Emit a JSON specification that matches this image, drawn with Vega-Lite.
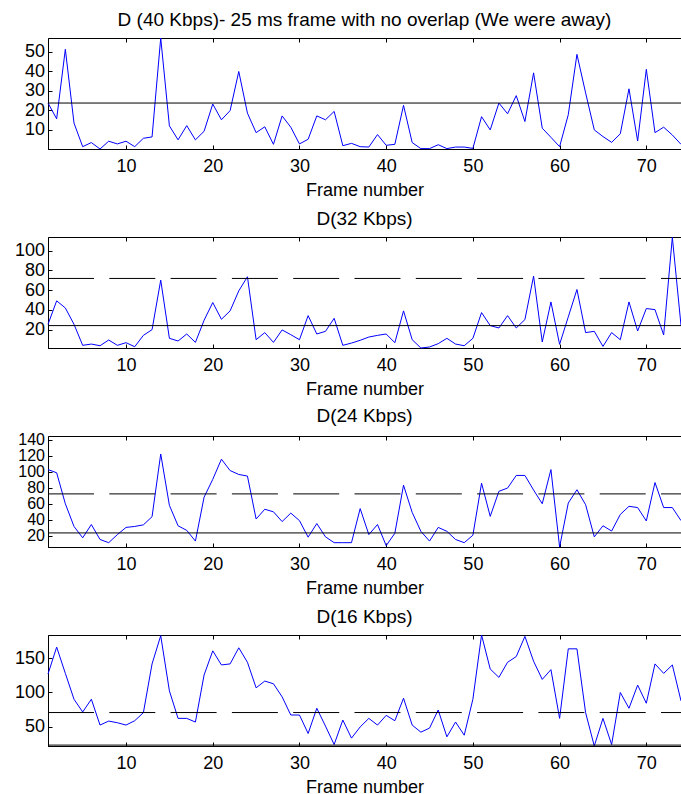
{
  "$schema": "https://vega.github.io/schema/vega-lite/v6.json",
  "background": "white",
  "padding": {"left": 13, "top": 10, "right": 0, "bottom": 0},
  "spacing": 88,
  "bounds": "flush",
  "config": {
    "font": "Liberation Sans",
    "view": {"stroke": "black", "strokeWidth": 1},
    "axis": {"grid": false, "domainColor": "black", "domainWidth": 1, "tickColor": "black", "tickSize": -4, "tickWidth": 1, "labelFont": "Liberation Sans", "labelFontSize": 18, "labelColor": "black", "labelOverlap": false, "labelBound": false, "titleFont": "Liberation Sans", "titleFontSize": 18, "titleFontWeight": "normal", "titleColor": "black"},
    "axisX": {"labelPadding": 12.5, "titlePadding": 6, "labelFlush": false},
    "axisY": {"labelPadding": 7.5, "labelOverlap": false},
    "title": {"font": "Liberation Sans", "fontSize": 19, "fontWeight": "normal", "color": "black", "offset": 6, "baseline": "alphabetic", "anchor": "middle", "frame": "group"}
  },
  "datasets": {
    "d40": [
      {"frame":1,"value":23.6},{"frame":2,"value":15.5},{"frame":3,"value":51.2},{"frame":4,"value":13.3},{"frame":5,"value":1.2},{"frame":6,"value":3.3},{"frame":7,"value":0},{"frame":8,"value":4},{"frame":9,"value":2.6},{"frame":10,"value":4},
      {"frame":11,"value":1.2},{"frame":12,"value":5.5},{"frame":13,"value":6.2},{"frame":14,"value":57},{"frame":15,"value":11.9},{"frame":16,"value":4.7},{"frame":17,"value":12},{"frame":18,"value":4.7},{"frame":19,"value":9.1},{"frame":20,"value":23.1},
      {"frame":21,"value":15},{"frame":22,"value":19.7},{"frame":23,"value":39.8},{"frame":24,"value":18.4},{"frame":25,"value":8.4},{"frame":26,"value":11.4},{"frame":27,"value":2.4},{"frame":28,"value":17},{"frame":29,"value":11.2},{"frame":30,"value":2.6},
      {"frame":31,"value":5},{"frame":32,"value":17},{"frame":33,"value":15},{"frame":34,"value":19.3},{"frame":35,"value":1.7},{"frame":36,"value":2.9},{"frame":37,"value":1.2},{"frame":38,"value":1},{"frame":39,"value":7.4},{"frame":40,"value":1.9},
      {"frame":41,"value":2.4},{"frame":42,"value":22.4},{"frame":43,"value":3.3},{"frame":44,"value":0.2},{"frame":45,"value":0.2},{"frame":46,"value":2.2},{"frame":47,"value":0.2},{"frame":48,"value":1},{"frame":49,"value":1},{"frame":50,"value":0.3},
      {"frame":51,"value":16.6},{"frame":52,"value":9.8},{"frame":53,"value":23.6},{"frame":54,"value":18.1},{"frame":55,"value":27.4},{"frame":56,"value":14.1},{"frame":57,"value":39.1},{"frame":58,"value":10.7},{"frame":59,"value":6},{"frame":60,"value":1.2},
      {"frame":61,"value":17.6},{"frame":62,"value":48.6},{"frame":63,"value":28.8},{"frame":64,"value":9.8},{"frame":65,"value":6.4},{"frame":66,"value":3.4},{"frame":67,"value":7.8},{"frame":68,"value":30.9},{"frame":69,"value":4.1},{"frame":70,"value":40.9},
      {"frame":71,"value":8.4},{"frame":72,"value":11.2},{"frame":73,"value":7.2},{"frame":74,"value":2.4}
    ],
    "d32": [
      {"frame":1,"value":25.4},{"frame":2,"value":49.2},{"frame":3,"value":42},{"frame":4,"value":25.4},{"frame":5,"value":4.1},{"frame":6,"value":5.4},{"frame":7,"value":3.7},{"frame":8,"value":9.5},{"frame":9,"value":4.1},{"frame":10,"value":6.8},
      {"frame":11,"value":2.7},{"frame":12,"value":14.2},{"frame":13,"value":20},{"frame":14,"value":70.2},{"frame":15,"value":11.2},{"frame":16,"value":8.5},{"frame":17,"value":15.6},{"frame":18,"value":7.1},{"frame":19,"value":29.5},{"frame":20,"value":47.5},
      {"frame":21,"value":30.5},{"frame":22,"value":39},{"frame":23,"value":59.3},{"frame":24,"value":73.6},{"frame":25,"value":9.8},{"frame":26,"value":17},{"frame":27,"value":7.1},{"frame":28,"value":19.7},{"frame":29,"value":14.9},{"frame":30,"value":9.8},
      {"frame":31,"value":34.2},{"frame":32,"value":15.6},{"frame":33,"value":18.3},{"frame":34,"value":31.5},{"frame":35,"value":4.1},{"frame":36,"value":6.4},{"frame":37,"value":9.2},{"frame":38,"value":12.5},{"frame":39,"value":14.2},{"frame":40,"value":15.6},
      {"frame":41,"value":6.8},{"frame":42,"value":39},{"frame":43,"value":9.8},{"frame":44,"value":1.4},{"frame":45,"value":2.4},{"frame":46,"value":5.8},{"frame":47,"value":11.2},{"frame":48,"value":5.4},{"frame":49,"value":3.7},{"frame":50,"value":11.2},
      {"frame":51,"value":37.3},{"frame":52,"value":24.1},{"frame":53,"value":21.7},{"frame":54,"value":34.2},{"frame":55,"value":21.7},{"frame":56,"value":30.2},{"frame":57,"value":74.2},{"frame":58,"value":7.5},{"frame":59,"value":48.1},{"frame":60,"value":5.1},
      {"frame":61,"value":32.9},{"frame":62,"value":60.7},{"frame":63,"value":17},{"frame":64,"value":18.3},{"frame":65,"value":3},{"frame":66,"value":17},{"frame":67,"value":9.8},{"frame":68,"value":48.1},{"frame":69,"value":18.6},{"frame":70,"value":41.4},
      {"frame":71,"value":40.3},{"frame":72,"value":14.6},{"frame":73,"value":113.6},{"frame":74,"value":24.4}
    ],
    "d24": [
      {"frame":1,"value":102.9},{"frame":2,"value":98.9},{"frame":3,"value":60.2},{"frame":4,"value":31.8},{"frame":5,"value":17.6},{"frame":6,"value":34.2},{"frame":7,"value":15.5},{"frame":8,"value":11.5},{"frame":9,"value":21.6},{"frame":10,"value":30.6},
      {"frame":11,"value":31.8},{"frame":12,"value":33.8},{"frame":13,"value":44},{"frame":14,"value":122.4},{"frame":15,"value":58.2},{"frame":16,"value":32.6},{"frame":17,"value":26.9},{"frame":18,"value":13.5},{"frame":19,"value":68.4},{"frame":20,"value":90.7},
      {"frame":21,"value":115.9},{"frame":22,"value":101.7},{"frame":23,"value":96.8},{"frame":24,"value":94.8},{"frame":25,"value":41.1},{"frame":26,"value":53.3},{"frame":27,"value":50.1},{"frame":28,"value":37.9},{"frame":29,"value":48.5},{"frame":30,"value":39.1},
      {"frame":31,"value":18.4},{"frame":32,"value":35.4},{"frame":33,"value":18.8},{"frame":34,"value":11.5},{"frame":35,"value":11.5},{"frame":36,"value":11.5},{"frame":37,"value":54.1},{"frame":38,"value":21.6},{"frame":39,"value":34.2},{"frame":40,"value":7.8},
      {"frame":41,"value":23.3},{"frame":42,"value":83.4},{"frame":43,"value":49.3},{"frame":44,"value":25.7},{"frame":45,"value":13.5},{"frame":46,"value":30.6},{"frame":47,"value":25.7},{"frame":48,"value":15.5},{"frame":49,"value":11.5},{"frame":50,"value":20.8},
      {"frame":51,"value":85.9},{"frame":52,"value":44.4},{"frame":53,"value":75.7},{"frame":54,"value":79.8},{"frame":55,"value":95.6},{"frame":56,"value":95.6},{"frame":57,"value":77.3},{"frame":58,"value":60.2},{"frame":59,"value":102.9},{"frame":60,"value":6.1},
      {"frame":61,"value":61.1},{"frame":62,"value":77.7},{"frame":63,"value":59},{"frame":64,"value":18.8},{"frame":65,"value":32.6},{"frame":66,"value":26.1},{"frame":67,"value":46.8},{"frame":68,"value":57},{"frame":69,"value":55.4},{"frame":70,"value":38.7},
      {"frame":71,"value":86.7},{"frame":72,"value":55.4},{"frame":73,"value":55.4},{"frame":74,"value":39.1}
    ],
    "d16": [
      {"frame":1,"value":126.8},{"frame":2,"value":165.9},{"frame":3,"value":127.8},{"frame":4,"value":90.2},{"frame":5,"value":71.7},{"frame":6,"value":90.2},{"frame":7,"value":52.7},{"frame":8,"value":58.5},{"frame":9,"value":56.1},{"frame":10,"value":52.7},
      {"frame":11,"value":59},{"frame":12,"value":70.7},{"frame":13,"value":141.5},{"frame":14,"value":182.5},{"frame":15,"value":102.4},{"frame":16,"value":62.4},{"frame":17,"value":62.4},{"frame":18,"value":57.1},{"frame":19,"value":125.4},{"frame":20,"value":160.5},
      {"frame":21,"value":140},{"frame":22,"value":141.5},{"frame":23,"value":164.9},{"frame":24,"value":143.9},{"frame":25,"value":106.8},{"frame":26,"value":116.6},{"frame":27,"value":112.7},{"frame":28,"value":93.7},{"frame":29,"value":67.3},{"frame":30,"value":67.3},
      {"frame":31,"value":40.5},{"frame":32,"value":77.1},{"frame":33,"value":51.2},{"frame":34,"value":24.4},{"frame":35,"value":60},{"frame":36,"value":33.7},{"frame":37,"value":50},{"frame":38,"value":62.4},{"frame":39,"value":52.7},{"frame":40,"value":66.8},
      {"frame":41,"value":59},{"frame":42,"value":91.7},{"frame":43,"value":52.7},{"frame":44,"value":42.4},{"frame":45,"value":48.3},{"frame":46,"value":74.6},{"frame":47,"value":35.6},{"frame":48,"value":57.1},{"frame":49,"value":38},{"frame":50,"value":90.2},
      {"frame":51,"value":183.5},{"frame":52,"value":134.1},{"frame":53,"value":122},{"frame":54,"value":143.9},{"frame":55,"value":152.2},{"frame":56,"value":181.5},{"frame":57,"value":145.4},{"frame":58,"value":119},{"frame":59,"value":133.2},{"frame":60,"value":62.4},
      {"frame":61,"value":163.4},{"frame":62,"value":163.4},{"frame":63,"value":70.7},{"frame":64,"value":22.3},{"frame":65,"value":62.4},{"frame":66,"value":24.4},{"frame":67,"value":100},{"frame":68,"value":77.1},{"frame":69,"value":110.7},{"frame":70,"value":84.4},
      {"frame":71,"value":141.5},{"frame":72,"value":127.8},{"frame":73,"value":140},{"frame":74,"value":87.8}
    ],
    "lv40": [{"level":23.6,"kind":"solid","from":1,"to":74}],
    "lv32": [{"level":24.1,"kind":"solid","from":1,"to":74},{"level":71.9,"kind":"dashed","from":1,"to":74}],
    "lv24": [{"level":23.7,"kind":"solid","from":1,"to":74},{"level":72.5,"kind":"dashed","from":1,"to":74}],
    "lv16": [{"level":23.6,"kind":"solid","from":1,"to":74},{"level":70.9,"kind":"dashed","from":1,"to":74}]
  },
  "vconcat": [
    {
      "width": 633, "height": 111,
      "title": {"text": "D (40 Kbps)- 25 ms frame with no overlap (We were away)"},
      "resolve": {"axis": {"x": "independent"}},
      "layer": [
        {"data": {"name": "d40"}, "mark": {"type": "line", "color": "#0000ff", "strokeWidth": 1},
         "encoding": {
           "x": {"field": "frame", "type": "quantitative", "scale": {"domain": [1, 74], "nice": false, "zero": false}, "axis": {"title": "Frame number", "values": [10,20,30,40,50,60,70], "orient": "bottom"}},
           "y": {"field": "value", "type": "quantitative", "scale": {"domain": [0, 57], "nice": false, "zero": false}, "axis": {"title": null, "values": [10,20,30,40,50], "labelOverlap": false}}}},
        {"data": {"name": "lv40"}, "mark": {"type": "rule", "color": "black", "strokeWidth": 1},
         "encoding": {
           "x": {"field": "from", "type": "quantitative", "scale": {"domain": [1, 74], "nice": false, "zero": false}, "axis": null},
           "x2": {"field": "to"},
           "y": {"field": "level", "type": "quantitative", "scale": {"domain": [0, 57], "nice": false, "zero": false}, "axis": {"title": null, "values": [10,20,30,40,50], "labelOverlap": false}},
           "strokeDash": {"field": "kind", "type": "nominal", "scale": {"domain": ["solid", "dashed"], "range": [[1, 0], [46, 15.3]]}, "legend": null}}},
        {"data": {"name": "d40"}, "mark": {"type": "point", "opacity": 0},
         "encoding": {"x": {"field": "frame", "type": "quantitative", "axis": {"orient": "top", "labels": false, "title": null, "domain": false, "values": [10,20,30,40,50,60,70]}}}}
      ]
    },
    {
      "width": 633, "height": 111,
      "title": {"text": "D(32 Kbps)"},
      "resolve": {"axis": {"x": "independent"}},
      "layer": [
        {"data": {"name": "d32"}, "mark": {"type": "line", "color": "#0000ff", "strokeWidth": 1},
         "encoding": {
           "x": {"field": "frame", "type": "quantitative", "scale": {"domain": [1, 74], "nice": false, "zero": false}, "axis": {"title": "Frame number", "values": [10,20,30,40,50,60,70], "orient": "bottom"}},
           "y": {"field": "value", "type": "quantitative", "scale": {"domain": [1.4, 113.9], "nice": false, "zero": false}, "axis": {"title": null, "values": [20,40,60,80,100], "labelOverlap": false}}}},
        {"data": {"name": "lv32"}, "mark": {"type": "rule", "color": "black", "strokeWidth": 1},
         "encoding": {
           "x": {"field": "from", "type": "quantitative", "scale": {"domain": [1, 74], "nice": false, "zero": false}, "axis": null},
           "x2": {"field": "to"},
           "y": {"field": "level", "type": "quantitative", "scale": {"domain": [1.4, 113.9], "nice": false, "zero": false}, "axis": {"title": null, "values": [20,40,60,80,100], "labelOverlap": false}},
           "strokeDash": {"field": "kind", "type": "nominal", "scale": {"domain": ["solid", "dashed"], "range": [[1, 0], [46, 15.3]]}, "legend": null}}},
        {"data": {"name": "d32"}, "mark": {"type": "point", "opacity": 0},
         "encoding": {"x": {"field": "frame", "type": "quantitative", "axis": {"orient": "top", "labels": false, "title": null, "domain": false, "values": [10,20,30,40,50,60,70]}}}}
      ]
    },
    {
      "width": 633, "height": 111,
      "title": {"text": "D(24 Kbps)"},
      "resolve": {"axis": {"x": "independent"}},
      "layer": [
        {"data": {"name": "d24"}, "mark": {"type": "line", "color": "#0000ff", "strokeWidth": 1},
         "encoding": {
           "x": {"field": "frame", "type": "quantitative", "scale": {"domain": [1, 74], "nice": false, "zero": false}, "axis": {"title": "Frame number", "values": [10,20,30,40,50,60,70], "orient": "bottom"}},
           "y": {"field": "value", "type": "quantitative", "scale": {"domain": [6.1, 144.9], "nice": false, "zero": false}, "axis": {"title": null, "values": [20,40,60,80,100,120,140], "labelOverlap": false, "labelFontSize": 16}}}},
        {"data": {"name": "lv24"}, "mark": {"type": "rule", "color": "black", "strokeWidth": 1},
         "encoding": {
           "x": {"field": "from", "type": "quantitative", "scale": {"domain": [1, 74], "nice": false, "zero": false}, "axis": null},
           "x2": {"field": "to"},
           "y": {"field": "level", "type": "quantitative", "scale": {"domain": [6.1, 144.9], "nice": false, "zero": false}, "axis": {"title": null, "values": [20,40,60,80,100,120,140], "labelOverlap": false, "labelFontSize": 16}},
           "strokeDash": {"field": "kind", "type": "nominal", "scale": {"domain": ["solid", "dashed"], "range": [[1, 0], [46, 15.3]]}, "legend": null}}},
        {"data": {"name": "d24"}, "mark": {"type": "point", "opacity": 0},
         "encoding": {"x": {"field": "frame", "type": "quantitative", "axis": {"orient": "top", "labels": false, "title": null, "domain": false, "values": [10,20,30,40,50,60,70]}}}}
      ]
    },
    {
      "width": 633, "height": 111,
      "title": {"text": "D(16 Kbps)"},
      "resolve": {"axis": {"x": "independent"}},
      "layer": [
        {"data": {"name": "d16"}, "mark": {"type": "line", "color": "#0000ff", "strokeWidth": 1},
         "encoding": {
           "x": {"field": "frame", "type": "quantitative", "scale": {"domain": [1, 74], "nice": false, "zero": false}, "axis": {"title": "Frame number", "values": [10,20,30,40,50,60,70], "orient": "bottom"}},
           "y": {"field": "value", "type": "quantitative", "scale": {"domain": [22.3, 183.5], "nice": false, "zero": false}, "axis": {"title": null, "values": [50,100,150], "labelOverlap": false}}}},
        {"data": {"name": "lv16"}, "mark": {"type": "rule", "color": "black", "strokeWidth": 1},
         "encoding": {
           "x": {"field": "from", "type": "quantitative", "scale": {"domain": [1, 74], "nice": false, "zero": false}, "axis": null},
           "x2": {"field": "to"},
           "y": {"field": "level", "type": "quantitative", "scale": {"domain": [22.3, 183.5], "nice": false, "zero": false}, "axis": {"title": null, "values": [50,100,150], "labelOverlap": false}},
           "strokeDash": {"field": "kind", "type": "nominal", "scale": {"domain": ["solid", "dashed"], "range": [[1, 0], [46, 15.3]]}, "legend": null}}},
        {"data": {"name": "d16"}, "mark": {"type": "point", "opacity": 0},
         "encoding": {"x": {"field": "frame", "type": "quantitative", "axis": {"orient": "top", "labels": false, "title": null, "domain": false, "values": [10,20,30,40,50,60,70]}}}}
      ]
    }
  ]
}
